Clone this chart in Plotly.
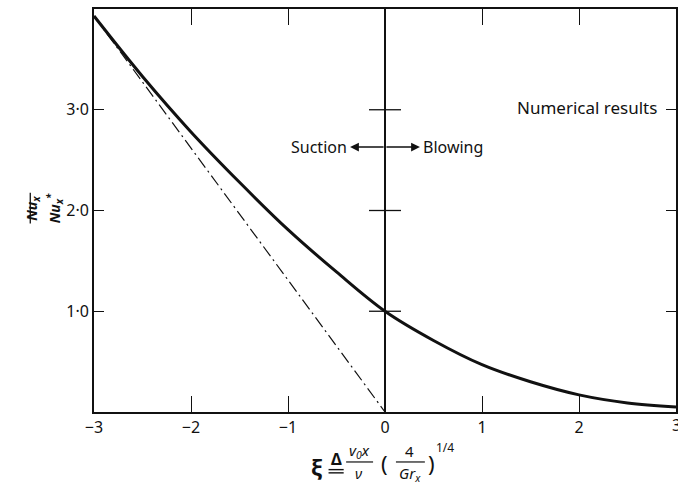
import plotly.graph_objects as go

# ---- data ----
xi = [-3.0, -2.5, -2.0, -1.5, -1.0, -0.5, 0.0, 0.5, 1.0, 1.5, 2.0, 2.5, 3.0]
nu_ratio = [3.93, 3.33, 2.78, 2.28, 1.81, 1.39, 1.00, 0.71, 0.47, 0.30, 0.17, 0.09, 0.05]
asym_x = [-3.0, 0.0]
asym_y = [3.93, 0.0]

x_ticks = [-3, -2, -1, 0, 1, 2]
x_ticktext = ["\u22123", "\u22122", "\u22121", "0", "1", "2"]
y_ticks = [1, 2, 3]
y_ticktext = ["1\u00b70", "2\u00b70", "3\u00b70"]

FONT = "Noto Sans"
BLACK = "#111111"

fig = go.Figure()
fig.add_trace(go.Scatter(x=asym_x, y=asym_y, mode="lines",
                         line=dict(color=BLACK, width=1.2, dash="12px,4px,2px,4px"),
                         hoverinfo="skip", showlegend=False))
fig.add_trace(go.Scatter(x=xi, y=nu_ratio, mode="lines", line_shape="spline",
                         line=dict(color=BLACK, width=3), hoverinfo="skip", showlegend=False))

fig.update_layout(
    width=678, height=485,
    margin=dict(l=94, r=0, t=9, b=73),
    paper_bgcolor="white", plot_bgcolor="white",
    font=dict(family=FONT, size=15, color=BLACK),
    showlegend=False,
)
fig.update_xaxes(range=[-3, 3], tickvals=x_ticks + [3], ticktext=x_ticktext + [""],
                 ticks="inside", ticklen=16, tickwidth=1.3, tickcolor=BLACK,
                 showline=True, linecolor=BLACK, linewidth=1.8, mirror="ticks",
                 showgrid=False, zeroline=True, zerolinecolor=BLACK, zerolinewidth=1.5,
                 tickfont=dict(size=16))
fig.update_yaxes(range=[0, 4], tickvals=y_ticks, ticktext=y_ticktext,
                 ticks="inside", ticklen=10, tickwidth=1.3, tickcolor=BLACK,
                 showline=True, linecolor=BLACK, linewidth=1.8, mirror="ticks",
                 showgrid=False, zeroline=False, tickfont=dict(size=16))

# last x tick label, partly cut by the page edge as in the reference
fig.add_annotation(x=3, y=0, xref="x", yref="y", yshift=-13, text="3",
                   showarrow=False, xanchor="center", yanchor="middle", font=dict(size=16))

# cross ticks on the xi = 0 line
for yv in y_ticks:
    fig.add_shape(type="line", xref="x", yref="y", xsizemode="pixel", xanchor=0,
                  x0=-16, x1=16, y0=yv, y1=yv, line=dict(color=BLACK, width=1.3))

# text annotations
fig.add_annotation(x=0, y=2.63, xref="x", yref="y", text="Suction", showarrow=False,
                   xanchor="right", xshift=-36, font=dict(size=16))
fig.add_annotation(x=0, y=2.63, xref="x", yref="y", text="Blowing", showarrow=False,
                   xanchor="left", xshift=36, font=dict(size=16))
fig.add_annotation(x=-0.36, y=2.63, xref="x", yref="y", ax=35, ay=0, text="",
                   showarrow=True, arrowhead=2, arrowsize=1.1, arrowwidth=1.6, arrowcolor=BLACK)
fig.add_annotation(x=0.36, y=2.63, xref="x", yref="y", ax=-35, ay=0, text="",
                   showarrow=True, arrowhead=2, arrowsize=1.1, arrowwidth=1.6, arrowcolor=BLACK)
fig.add_annotation(x=3, y=3.02, xref="x", yref="y", text="Numerical results", showarrow=False,
                   xanchor="right", xshift=-17, font=dict(size=17))

# y-axis title as a rotated fraction
fig.add_annotation(x=-0.1284, y=0.506, xref="paper", yref="paper", textangle=-90,
                   text="<b><i>Nu<sub>x</sub></i></b>", showarrow=False, font=dict(size=14))
fig.add_annotation(x=-0.0890, y=0.506, xref="paper", yref="paper", textangle=-90,
                   text="<b><i>Nu<sub>x</sub><sup>*</sup></i></b>", showarrow=False, font=dict(size=14))
fig.add_shape(type="line", xref="paper", yref="paper", x0=-0.1095, x1=-0.1095,
              y0=0.468, y1=0.544, line=dict(color=BLACK, width=1.3))

# x-axis title
def ann(x, y, text, size=15):
    fig.add_annotation(x=x, y=y, xref="paper", yref="paper", text=text,
                       showarrow=False, xanchor="center", yanchor="middle",
                       font=dict(size=size))

ann(0.3836, -0.134, "<b>\u03be</b>", 22)
ann(0.416, -0.117, "<b>\u0394</b>", 16)
for yy in (-0.143, -0.151):
    fig.add_shape(type="line", xref="paper", yref="paper", x0=0.403, x1=0.429,
                  y0=yy, y1=yy, line=dict(color=BLACK, width=1.4))
ann(0.4555, -0.097, "<i>v<sub>0</sub>x</i>", 15)
ann(0.4555, -0.152, "<i>\u03bd</i>", 15)
fig.add_shape(type="line", xref="paper", yref="paper", x0=0.4332, x1=0.4795,
              y0=-0.124, y1=-0.124, line=dict(color=BLACK, width=1.2))
ann(0.4983, -0.126, "(", 22)
ann(0.5428, -0.097, "4", 15)
ann(0.5428, -0.155, "<i>Gr<sub>x</sub></i>", 15)
fig.add_shape(type="line", xref="paper", yref="paper", x0=0.5188, x1=0.5685,
              y0=-0.124, y1=-0.124, line=dict(color=BLACK, width=1.2))
ann(0.5805, -0.126, ")", 22)
ann(0.603, -0.087, "1/4", 12)

fig.write_html("out.html")
